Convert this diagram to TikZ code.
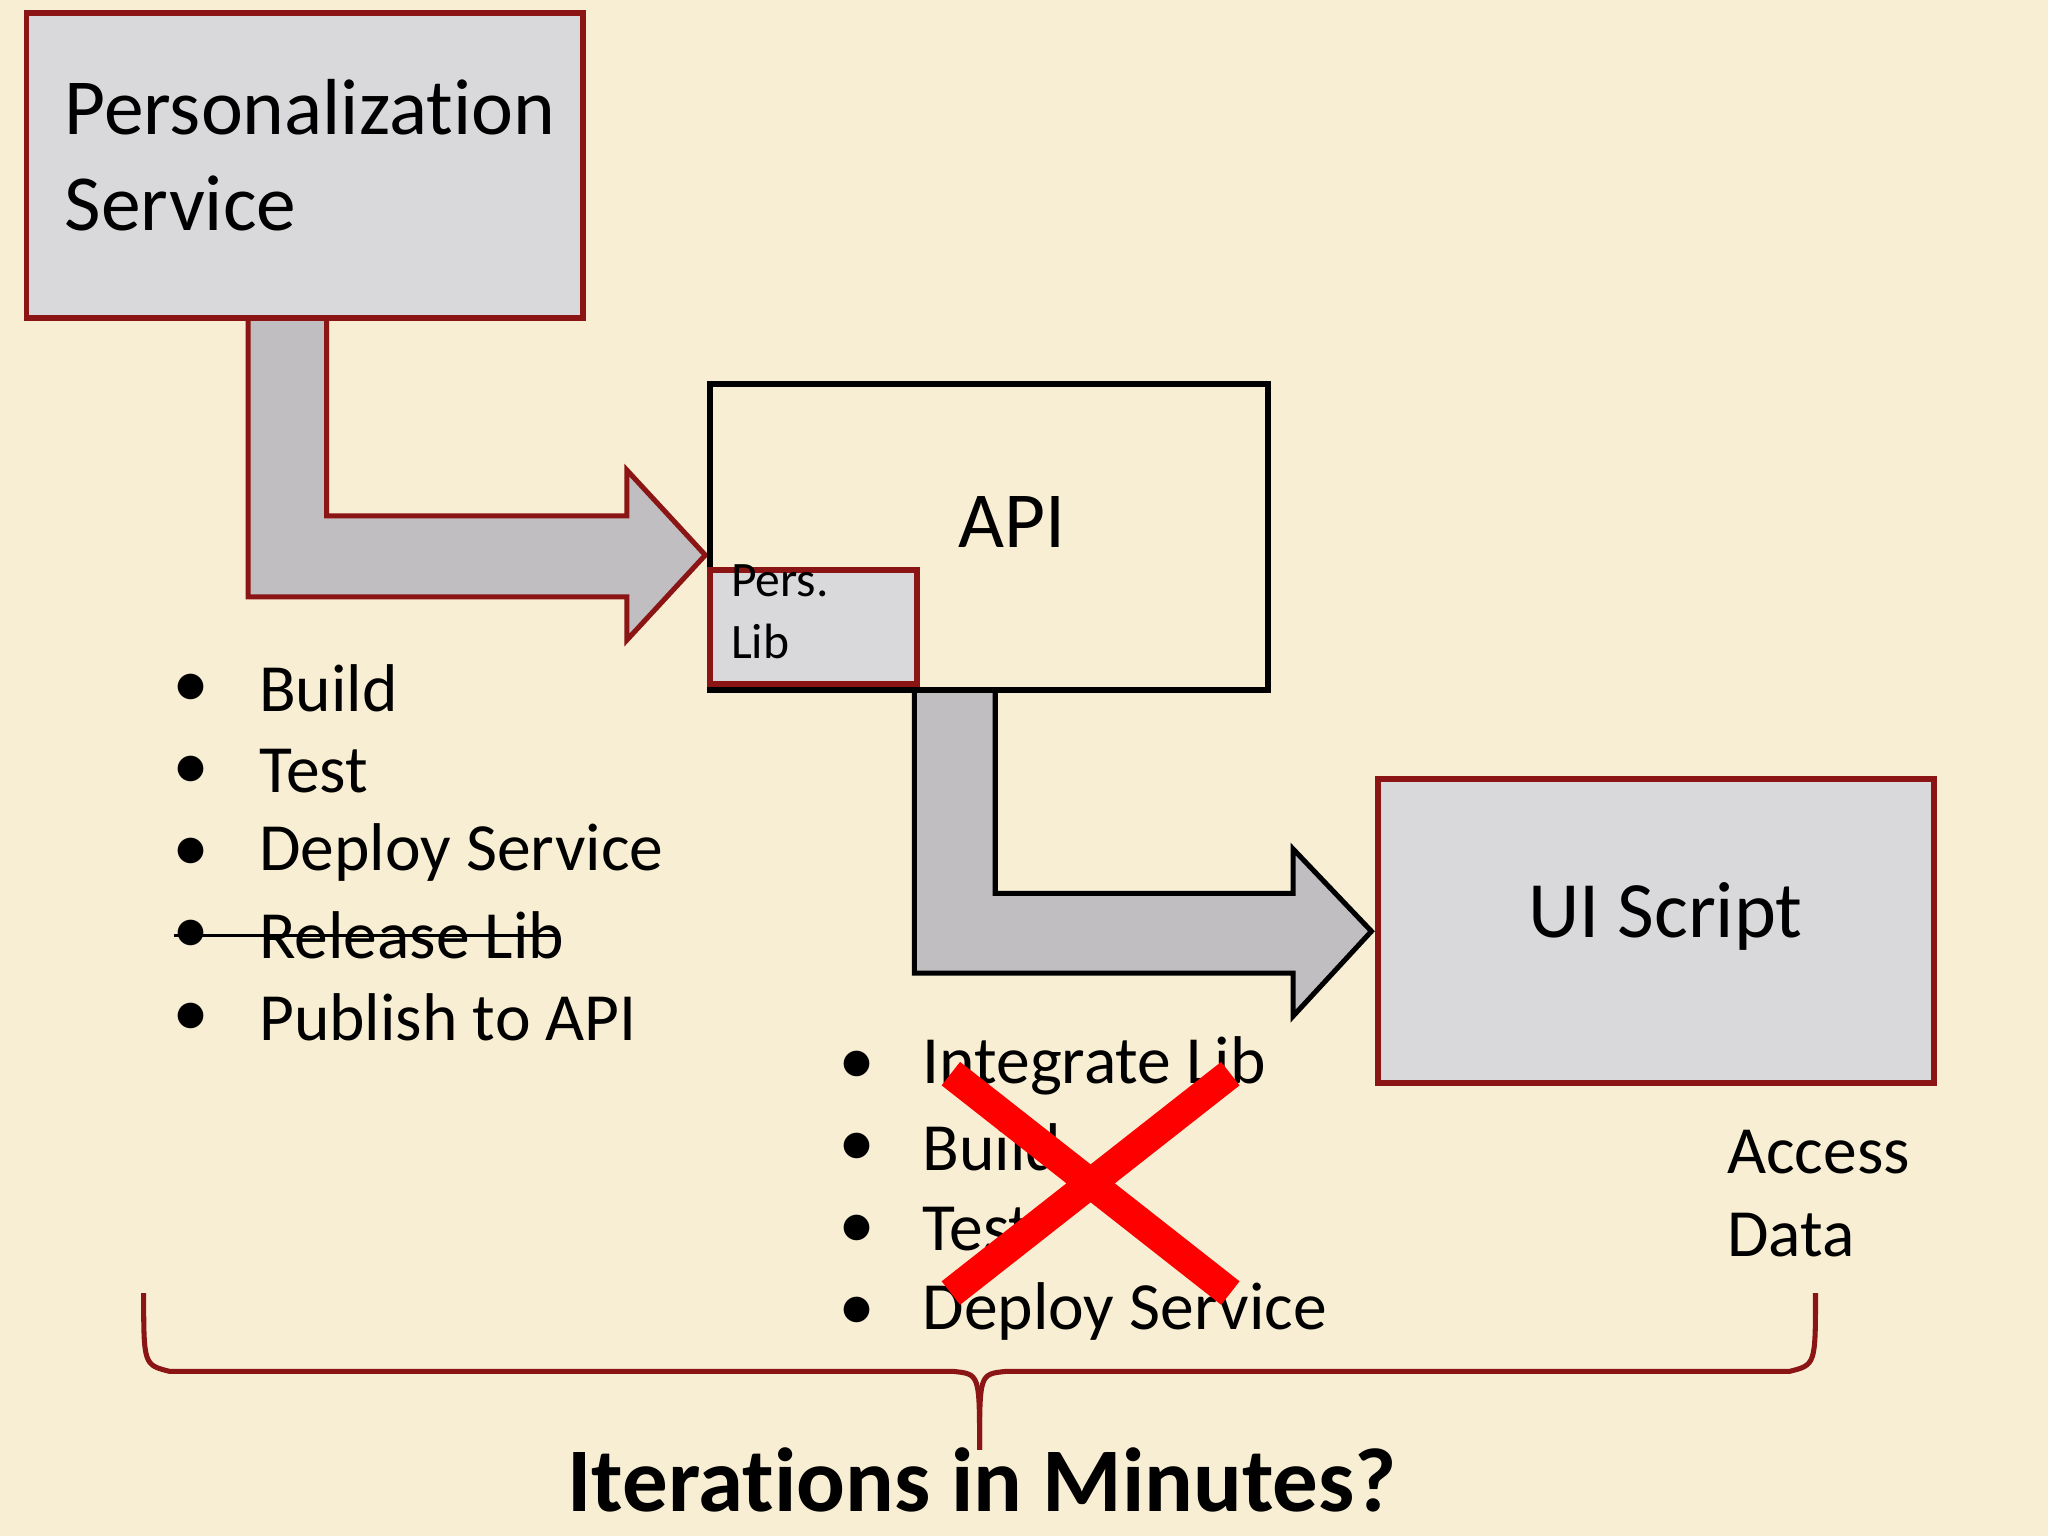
\documentclass[tikz,border=0pt]{standalone}
\usepackage{fontspec}
\setmainfont{Carlito}[Ligatures=NoCommon]
\definecolor{bg}{HTML}{F7EED3}
\definecolor{dred}{HTML}{8B1414}
\definecolor{boxg}{HTML}{D9D8DB}
\definecolor{arrg}{HTML}{C0BEC0}
\tikzset{
 rbox/.style={draw=dred,line width=1.3pt,fill=boxg,inner sep=0pt},
 arr/.style={line width=1.1pt,fill=arrg,line join=miter},
 big/.style={font=\fontsize{17.3}{21}\selectfont,anchor=west},
 lst/.style={font=\fontsize{14.7}{18}\selectfont,anchor=west},
}
\begin{document}
\begin{tikzpicture}[x=0.01cm,y=-0.01cm]
\fill[bg] (0,0) rectangle (1568,1176);
\useasboundingbox (0,0) rectangle (1568,1176);
% arrows
\draw[arr,draw=dred] (190,241) -- (190,457) -- (480,457) -- (480,490) -- (540,425) -- (480,360) -- (480,395) -- (250,395) -- (250,241);
\draw[arr,draw=black] (700,526) -- (700,745) -- (990,745) -- (990,778) -- (1050,713) -- (990,650) -- (990,684) -- (762,684) -- (762,526);
% boxes
\node[rbox,minimum width=4.26cm,minimum height=2.33cm,anchor=north west] (ps) at (18,8) {};
\node[big,align=left,anchor=north west] at (37,48) {Personalization\\Service};
\node[draw=black,line width=1.3pt,inner sep=0pt,minimum width=4.27cm,minimum height=2.34cm,anchor=north west] (api) at (541,292) {};
\node[font=\fontsize{17.3}{20}\selectfont] at (775,400) {API};
\node[rbox,minimum width=1.59cm,minimum height=0.87cm,anchor=north west] (pl) at (541,434) {};
\node[font=\fontsize{10.8}{13.5}\selectfont,anchor=north west,align=left,inner sep=0pt] at (559,432) {Pers.\\Lib};
\node[rbox,minimum width=4.25cm,minimum height=2.33cm,anchor=north west] (ui) at (1053,594) {};
\node[font=\fontsize{17.4}{20}\selectfont] at (1275,702) {UI Script};
% list 1
\foreach \t [count=\i] in {Build,Test,Deploy Service,Release Lib,Publish to API}{
  \node[lst] at (121,527+63*\i-63) {$\bullet$};
  \node[lst] at (186,527+63*\i-63) {\t};
}
\draw[line width=0.6pt] (133,716) -- (428,716);
% list 2
\foreach \t [count=\i] in {Integrate Lib,Build,Test,Deploy Service}{
  \node[lst] at (631,816+62.7*\i-62.7) {$\bullet$};
  \node[lst] at (694,816+62.7*\i-62.7) {\t};
}
\draw[red,line width=6.5pt] (728,822) -- (942,990) (942,822) -- (728,990);
\node[lst,align=left,anchor=north west] at (1310,853) {Access\\Data};
% brace
\draw[dred,line width=1.1pt] (110,990) .. controls (110,1045) .. (130,1050) -- (730,1050) .. controls (750,1052) .. (750,1110);
\draw[dred,line width=1.1pt] (1390,990) .. controls (1390,1045) .. (1370,1050) -- (770,1050) .. controls (750,1052) .. (750,1110);
\node[font=\fontsize{19.8}{22}\bfseries\selectfont] at (752,1133) {Iterations in Minutes?};
\end{tikzpicture}
\end{document}
